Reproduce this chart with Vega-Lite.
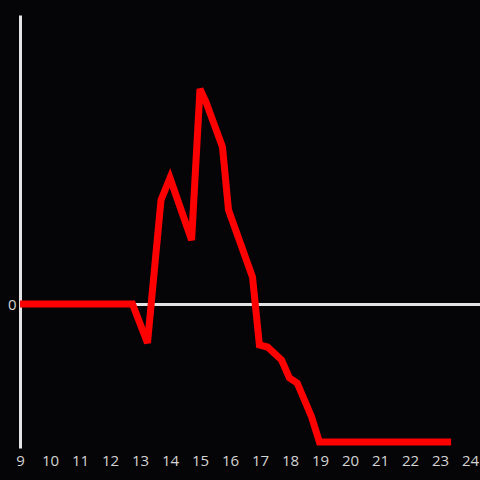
{
  "$schema": "https://vega.github.io/schema/vega-lite/v6.json",
  "width": 460,
  "height": 433,
  "autosize": {"type": "none"},
  "padding": {"left": 20, "top": 15, "right": 0, "bottom": 32},
  "background": "#050407",
  "config": {
    "view": {"stroke": null},
    "axis": {"labelFont": "Open Sans", "labelFontSize": 15, "labelColor": "#d4d4d4"}
  },
  "data": {
    "values": [
      {"hour": 9.0, "value": 0},
      {"hour": 12.75, "value": 0},
      {"hour": 13.25, "value": -39},
      {"hour": 13.7, "value": 104},
      {"hour": 14.0, "value": 126},
      {"hour": 14.72, "value": 64},
      {"hour": 15.0, "value": 215},
      {"hour": 15.2, "value": 202},
      {"hour": 15.75, "value": 157},
      {"hour": 15.95, "value": 94},
      {"hour": 16.75, "value": 27},
      {"hour": 16.98, "value": -41},
      {"hour": 17.25, "value": -43},
      {"hour": 17.72, "value": -56},
      {"hour": 17.98, "value": -74},
      {"hour": 18.24, "value": -79},
      {"hour": 18.72, "value": -113},
      {"hour": 18.98, "value": -138},
      {"hour": 23.37, "value": -138}
    ]
  },
  "mark": {"type": "line", "color": "#ff0000", "strokeWidth": 7, "strokeJoin": "miter", "strokeCap": "butt"},
  "encoding": {
    "x": {
      "field": "hour", "type": "quantitative",
      "scale": {"domain": [9, 24.3333], "nice": false, "zero": false},
      "axis": {"title": null, "values": [9,10,11,12,13,14,15,16,17,18,19,20,21,22,23,24], "domain": false, "ticks": false, "grid": false, "labelPadding": 5, "labelFlush": false, "labelOverlap": false}
    },
    "y": {
      "field": "value", "type": "quantitative",
      "scale": {"domain": [-144, 289], "nice": false, "zero": false},
      "axis": {"title": null, "values": [0], "ticks": false, "grid": true, "gridColor": "#e4e4e4", "gridWidth": 3, "gridOpacity": 1, "domain": true, "domainColor": "#e4e4e4", "domainWidth": 3, "labelPadding": 4, "labelDy": 1}
    }
  }
}
